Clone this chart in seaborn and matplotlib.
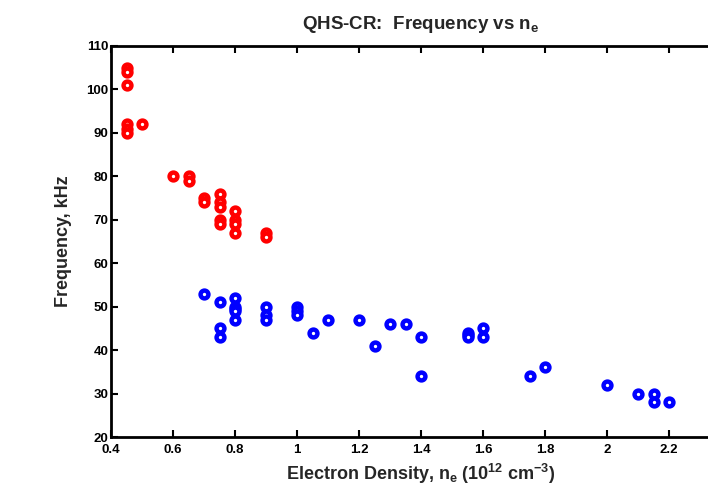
import numpy as np
import pandas as pd
import matplotlib
matplotlib.use('Agg')
import matplotlib.pyplot as plt
import seaborn as sns

# --- data ---
red_ne = [0.45, 0.45, 0.45, 0.45, 0.45, 0.45, 0.5,
          0.6, 0.65, 0.65, 0.7, 0.7,
          0.75, 0.75, 0.75, 0.75, 0.75,
          0.8, 0.8, 0.8, 0.8, 0.9, 0.9]
red_freq = [105, 104, 101, 92, 91, 90, 92,
            80, 80, 79, 75, 74,
            76, 74, 73, 70, 69,
            72, 70, 69, 67, 67, 66]

blue_ne = [0.7, 0.75, 0.75, 0.75, 0.8, 0.8, 0.8, 0.8, 0.8,
           0.9, 0.9, 0.9, 1.0, 1.0, 1.0, 1.05, 1.1, 1.2, 1.25,
           1.3, 1.35, 1.4, 1.4, 1.55, 1.55, 1.55, 1.6, 1.6,
           1.75, 1.8, 2.0, 2.1, 2.15, 2.15, 2.2]
blue_freq = [53, 51, 45, 43, 52, 50, 49.5, 49, 47,
             50, 48, 47, 50, 49, 48, 44, 47, 47, 41,
             46, 46, 43, 34, 44, 43.5, 43, 45, 43,
             34, 36, 32, 30, 30, 28, 28]

x_ticks = [0.4, 0.6, 0.8, 1.0, 1.2, 1.4, 1.6, 1.8, 2.0, 2.2, 2.4]
x_tick_labels = ['0.4', '0.6', '0.8', '1', '1.2', '1.4', '1.6', '1.8', '2', '2.2', '']
y_ticks = list(range(20, 111, 10))

df_red = pd.DataFrame({'ne': red_ne, 'freq': red_freq})
df_blue = pd.DataFrame({'ne': blue_ne, 'freq': blue_freq})

# --- style ---
sns.set_style("white")
plt.rcParams['font.family'] = ['Liberation Sans', 'DejaVu Sans']
plt.rcParams['font.weight'] = 'bold'
plt.rcParams['mathtext.fontset'] = 'custom'
plt.rcParams['mathtext.rm'] = 'Liberation Sans:bold'
plt.rcParams['mathtext.it'] = 'Liberation Sans:bold'
plt.rcParams['mathtext.bf'] = 'Liberation Sans:bold'

fig = plt.figure(figsize=(7.08, 4.90), dpi=100)
# axes runs past the right edge of the figure, like the cropped original
ax = fig.add_axes([111 / 708, 53 / 490, 620 / 708, 391 / 490])

sns.scatterplot(data=df_red, x='ne', y='freq', ax=ax, marker='o', s=32,
                facecolor='white', edgecolor='#ff0000', linewidth=3.2, legend=False)
sns.scatterplot(data=df_blue, x='ne', y='freq', ax=ax, marker='o', s=32,
                facecolor='white', edgecolor='#0000ff', linewidth=3.2, legend=False)

ax.set_xlim(0.4, 2.4)
ax.set_ylim(20, 110)
ax.set_xticks(x_ticks)
ax.set_xticklabels(x_tick_labels)
ax.set_yticks(y_ticks)
ax.tick_params(direction='in', length=5, width=1.5, labelsize=9.5, pad=2,
               top=True, bottom=True, left=True, right=True, colors='black')
ax.tick_params(axis='x', pad=5)
for lab in ax.get_xticklabels() + ax.get_yticklabels():
    lab.set_fontweight('bold')
for sp in ax.spines.values():
    sp.set_linewidth(2)
    sp.set_color('black')

ax.set_xlabel(r'Electron Density, n$_e$ (10$^{12}$ cm$^{-3}$)', fontsize=13,
              fontweight='bold', labelpad=4)
ax.set_ylabel('Frequency, kHz', fontsize=13, fontweight='bold', labelpad=10)
ax.set_title(r'QHS-CR:  Frequency vs n$_e$', fontsize=13.5, fontweight='bold', pad=12)

fig.savefig('out.png', dpi=100)
plt.close(fig)
